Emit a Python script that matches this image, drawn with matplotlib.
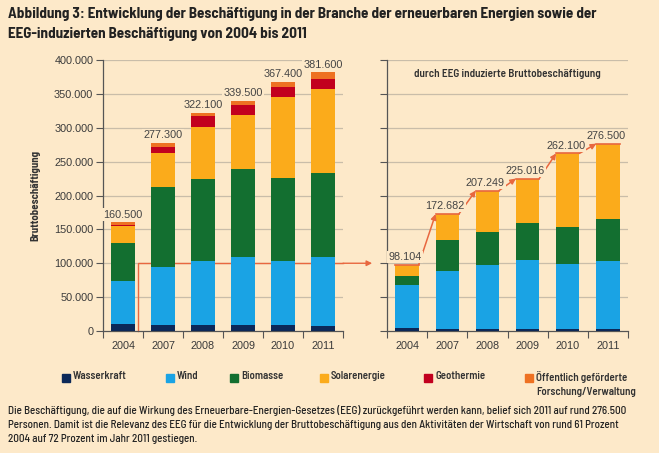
import matplotlib.pyplot as plt
from matplotlib.patches import Rectangle, ConnectionPatch
import numpy as np

plt.rcParams['font.family'] = ['Barlow Semi Condensed', 'DejaVu Sans']
num_font = ['Liberation Sans', 'DejaVu Sans']

years = ['2004', '2007', '2008', '2009', '2010', '2011']
sources = ['Wasserkraft', 'Wind', 'Biomasse', 'Solarenergie', 'Geothermie',
           'Öffentlich geförderte\nForschung/Verwaltung']
colors = ['#0c2858', '#1aa3e4', '#136f30', '#fbab1b', '#c2001e', '#ee7122']

# Bruttobeschäftigung gesamt (linkes Diagramm)
wasser = [10000, 9000, 9000, 9000, 9000, 8000]
wind = [64000, 85000, 94800, 100700, 94800, 100700]
biomasse = [56000, 119000, 121000, 128900, 122500, 124000]
solar = [25100, 49000, 76800, 79700, 119600, 124500]
geo = [2000, 10000, 15700, 14800, 14700, 14300]
forschung = [3400, 5300, 4800, 6400, 6800, 10100]
totals = [160500, 277300, 322100, 339500, 367400, 381600]

# durch EEG induzierte Bruttobeschäftigung (rechtes Diagramm)
eeg_wasser = [3900, 2500, 2500, 2500, 2500, 2500]
eeg_wind = [63500, 86100, 95400, 101800, 95900, 100800]
eeg_biomasse = [13800, 45200, 48200, 55100, 55100, 61500]
eeg_solar = [16904, 38882, 61149, 65616, 108600, 111700]
eeg_totals = [98104, 172682, 207249, 225016, 262100, 276500]

bg = '#fde9c9'
grid_c = '#c9bda9'
axis_c = '#555555'
arrow_c = '#e8673f'

def fmt(v):
    return f'{v:,}'.replace(',', '.')

fig = plt.figure(figsize=(6.59, 4.53), dpi=100, facecolor=bg)
W, H = 659, 453

def axes_at(x0, x1, y_top, y_bot):
    return fig.add_axes([x0 / W, 1 - y_bot / H, (x1 - x0) / W, (y_bot - y_top) / H])

ax1 = axes_at(103, 343, 60, 331)
ax2 = axes_at(387, 628, 60, 331)

x = np.arange(len(years))
bw = 0.58

def draw_stack(ax, series, cols):
    bottom = np.zeros(len(years))
    for vals, c in zip(series, cols):
        ax.bar(x, vals, bw, bottom=bottom, color=c, zorder=3)
        bottom += np.array(vals)

draw_stack(ax1, [wasser, wind, biomasse, solar, geo, forschung], colors)
draw_stack(ax2, [eeg_wasser, eeg_wind, eeg_biomasse, eeg_solar], colors[:4])

for ax in (ax1, ax2):
    ax.set_facecolor(bg)
    ax.set_xlim(-0.5, 5.5)
    ax.set_ylim(0, 400000)
    ax.set_yticks(np.arange(0, 400001, 50000))
    for yv in np.arange(50000, 400001, 50000):
        ax.axhline(yv, color=grid_c, lw=0.9, zorder=1)
    for s in ('top', 'right'):
        ax.spines[s].set_visible(False)
    for s in ('left', 'bottom'):
        ax.spines[s].set_color(axis_c)
        ax.spines[s].set_linewidth(0.9)
    ax.set_xticks(np.arange(-0.5, 5.6, 1))
    ax.set_xticklabels([])
    ax.set_xticks(x, minor=True)
    ax.set_xticklabels(years, minor=True, family=num_font)
    ax.tick_params(axis='x', which='major', length=5, color=axis_c, direction='out')
    ax.tick_params(axis='x', which='minor', length=0, pad=7, labelsize=7.8, labelcolor='#3a3a3a')
    ax.tick_params(axis='y', length=5, color=axis_c, direction='out', labelsize=7.8,
                   labelcolor='#3a3a3a', pad=2)

ax1.set_yticklabels([fmt(int(v)) for v in np.arange(0, 400001, 50000)], family=num_font)
ax2.set_yticklabels([])
ax1.set_ylabel('Bruttobeschäftigung', fontsize=7.8, fontweight='bold', color='#333333', labelpad=10)

for xi, t in zip(x, totals):
    ax1.text(xi, t + 4000, fmt(t), ha='center', va='bottom', fontsize=7.8, color='#444444',
             family=num_font, zorder=5, bbox=dict(boxstyle='square,pad=0.1', fc=bg, ec='none'))
for xi, t in zip(x, eeg_totals):
    ax2.text(xi - 0.05, t + 4000, fmt(t), ha='center', va='bottom', fontsize=7.8, color='#444444',
             family=num_font, zorder=5, bbox=dict(boxstyle='square,pad=0.1', fc=bg, ec='none'))

ax2.text(2.5, 386000, 'durch EEG induzierte Bruttobeschäftigung', ha='center', va='top',
         fontsize=8, fontweight='semibold', color='#333333')

# Stufenlinie mit Pfeilen im rechten Diagramm
for i in range(len(years)):
    ax2.plot([x[i] - bw / 2, x[i] + bw / 2], [eeg_totals[i]] * 2, color=arrow_c, lw=1.2, zorder=4)
    if i < len(years) - 1:
        ax2.annotate('', xy=(x[i + 1] - bw / 2, eeg_totals[i + 1]),
                     xytext=(x[i] + bw / 2, eeg_totals[i]),
                     arrowprops=dict(arrowstyle='-|>', color=arrow_c, lw=1.1,
                                     mutation_scale=8, shrinkA=0, shrinkB=0), zorder=4)

# Verbindung vom linken zum rechten Diagramm
ax1.plot([0.375, 0.375, 5.5], [0, 100000, 100000], color=arrow_c, lw=1, zorder=2, clip_on=False)
con = ConnectionPatch(xyA=(5.5, 100000), coordsA=ax1.transData,
                      xyB=(-0.87, 100000), coordsB=ax2.transData,
                      arrowstyle='-|>', color=arrow_c, lw=1, mutation_scale=8)
fig.add_artist(con)

fig.text(8 / W, 1 - 7 / H,
         'Abbildung 3: Entwicklung der Beschäftigung in der Branche der erneuerbaren Energien sowie der\n'
         'EEG-induzierten Beschäftigung von 2004 bis 2011',
         ha='left', va='top', fontsize=10.9, fontweight='bold', color='#222222', linespacing=1.55)

# Legende
leg_x = [62, 166, 230, 320, 424, 525]
for lx, name, c in zip(leg_x, sources, colors):
    fig.add_artist(Rectangle((lx / W, 1 - 382 / H), 8 / W, 8 / H, transform=fig.transFigure,
                             color=c))
    fig.text((lx + 11) / W, 1 - 371 / H, name, ha='left', va='top', fontsize=7.8,
             fontweight='semibold', color='#333333', linespacing=1.55)

fig.text(8 / W, 1 - 405 / H,
         'Die Beschäftigung, die auf die Wirkung des Erneuerbare-Energien-Gesetzes (EEG) zurückgeführt werden kann, belief sich 2011 auf rund 276.500\n'
         'Personen. Damit ist die Relevanz des EEG für die Entwicklung der Bruttobeschäftigung aus den Aktivitäten der Wirtschaft von rund 61 Prozent\n'
         '2004 auf 72 Prozent im Jahr 2011 gestiegen.',
         ha='left', va='top', fontsize=7.95, fontweight='medium', color='#222222', linespacing=1.5)

fig.savefig('out.png', dpi=100, facecolor=bg)
